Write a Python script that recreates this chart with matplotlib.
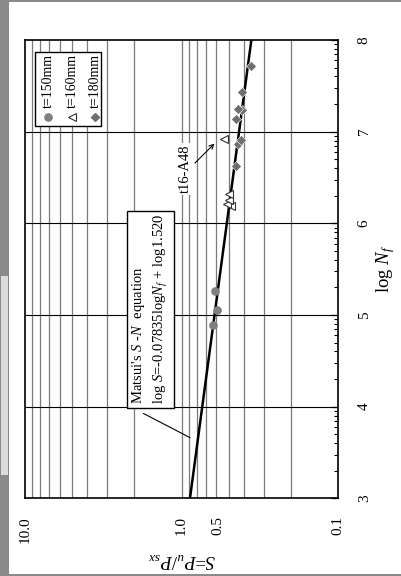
import numpy as np
import matplotlib
matplotlib.use("Agg")
import matplotlib.pyplot as plt
from matplotlib.patches import Rectangle
from matplotlib.lines import Line2D
from matplotlib.transforms import ScaledTranslation
from matplotlib.ticker import FixedLocator, NullLocator

plt.rcParams["font.family"] = ["Liberation Serif", "DejaVu Serif"]
plt.rcParams["mathtext.fontset"] = "custom"
plt.rcParams["mathtext.rm"] = "Liberation Serif"
plt.rcParams["mathtext.it"] = "Liberation Serif:italic"

# Fatigue test results: log N_f and load ratio S for each plate thickness
circ_logN = [4.89, 5.05, 5.26]
circ_S = [0.634, 0.598, 0.613]
tri_logN = [6.19, 6.21, 6.25, 6.32, 6.92]
tri_S = [0.485, 0.510, 0.499, 0.501, 0.535]
dia_logN = [6.63, 6.87, 6.91, 7.14, 7.24, 7.25, 7.43, 7.72]
dia_S = [0.448, 0.439, 0.418, 0.452, 0.414, 0.435, 0.414, 0.3625]

series_labels = ["t=150mm", "t=160mm", "t=180mm"]

# Matsui's S-N equation: log S = a log N_f + log b
eq_a = -0.07835
eq_b = 1.520
eq_logN = [3, 8]

logN_ticks = [3, 4, 5, 6, 7, 8]
S_ticks = [10.0, 1.0, 0.5, 0.1]
S_ticklabels = ["10.0", "1.0", "0.5", "0.1"]
S_grid = [0.2, 0.3, 0.4, 0.5, 0.6, 0.7, 0.8, 0.9, 1, 2, 3, 4, 5, 6, 7, 8, 9]

W, H = 402, 576
fig = plt.figure(figsize=(W / 100, H / 100), dpi=100)
fig.patch.set_facecolor("#8a8a8a")
fig.add_artist(Rectangle((9 / W, 2 / H), 392 / W, 572 / H, transform=fig.transFigure,
                         facecolor="white", edgecolor="none", zorder=-10))
fig.add_artist(Rectangle((1 / W, (576 - 475) / H), 7 / W, 199 / H, transform=fig.transFigure,
                         facecolor="#dcdcdc", edgecolor="none", zorder=-10))

x0, x1, ytop, ybot = 25, 338.3, 40, 498.3
ax = fig.add_axes([x0 / W, (H - ybot) / H, (x1 - x0) / W, (ybot - ytop) / H])

# S runs horizontally (log, decreasing to the right); log N_f runs vertically
ax.set_xscale("log")
ax.set_xlim(10, 0.1)
ax.set_ylim(3, 8)

for s in S_grid:
    ax.axvline(s, color="#7a7a7a", lw=0.9, zorder=1)
for n in logN_ticks[1:-1]:
    ax.axhline(n, color="black", lw=0.8, zorder=1)

# fitted S-N line
ln = np.array(eq_logN, dtype=float)
ax.plot(10 ** (eq_a * ln + np.log10(eq_b)), ln, color="black", lw=1.8, zorder=3)

ms_kw = dict(linestyle="none", zorder=4, clip_on=False)
ax.plot(circ_S, circ_logN, marker="o", ms=5.2, mfc="#7f7f7f", mec="#7f7f7f", **ms_kw)
ax.plot(tri_S, tri_logN, marker="<", ms=6, mfc="white", mec="#333333", mew=0.8, **ms_kw)
ax.plot(dia_S, dia_logN, marker="D", ms=4.6, mfc="#6f6f6f", mec="white", mew=0.4, **ms_kw)

# axes, ticks and labels
for sp in ax.spines.values():
    sp.set_linewidth(1.2)
ax.xaxis.set_major_locator(FixedLocator(S_ticks))
ax.xaxis.set_minor_locator(NullLocator())
ax.set_xticklabels(S_ticklabels)
ax.tick_params(axis="x", which="both", length=0, labelrotation=90, labelsize=11, pad=13)

ax.yaxis.tick_right()
ax.yaxis.set_label_position("right")
ax.set_yticks(logN_ticks)
minor_pos = [n + np.log10(k) for n in range(3, 8) for k in range(2, 10)]
ax.yaxis.set_minor_locator(FixedLocator(minor_pos))
ax.tick_params(axis="y", which="major", direction="in", length=5, width=0.9,
               labelsize=11, labelrotation=90, pad=14, right=True, left=False)
ax.tick_params(axis="y", which="minor", direction="in", length=3, width=0.8,
               right=True, left=False)
for lab in ax.get_yticklabels():
    lab.set_verticalalignment("center")

# the 0.5 label sits a little to the left of its grid line
lab05 = ax.get_xticklabels()[2]
lab05.set_transform(lab05.get_transform() + ScaledTranslation(-11 / 100, 0, fig.dpi_scale_trans))

ax.set_ylabel(r"log $N_f$", fontsize=13.5, rotation=90, va="center", ha="center")
ax.yaxis.set_label_coords((386 - x0) / (x1 - x0), 0.5)
ax.set_xlabel(r"$S$=$P_u$/$P_{sx}$", fontsize=13.5, rotation=180, va="center", ha="center")
ax.xaxis.set_label_coords(0.5, -(560 - ybot) / (ybot - ytop))

# legend drawn with vertical text
def axfx(px):
    return (px - x0) / (x1 - x0)

def axfy(py):
    return (ybot - py) / (ybot - ytop)

ax.add_patch(Rectangle((axfx(35), axfy(126)), axfx(101) - axfx(35), axfy(51.7) - axfy(126),
                       transform=ax.transAxes, facecolor="white", edgecolor="black",
                       lw=1.0, zorder=5))
leg_styles = [dict(marker="o", ms=5.2, mfc="#7f7f7f", mec="#7f7f7f"),
              dict(marker="<", ms=5.5, mfc="white", mec="#333333", mew=0.8),
              dict(marker="D", ms=4.2, mfc="#6f6f6f", mec="#6f6f6f")]
for lx, lab, sty in zip([48, 72, 95], series_labels, leg_styles):
    ax.add_line(Line2D([axfx(lx)], [axfy(116.5)], transform=ax.transAxes, zorder=6, **sty))
    ax.text(axfx(lx), axfy(108.5), lab, transform=ax.transAxes, rotation=90,
            ha="center", va="bottom", fontsize=10, zorder=6)

# equation box with leader line
ax.add_patch(Rectangle((axfx(127.3), axfy(408.3)), axfx(174) - axfx(127.3), axfy(211) - axfy(408.3),
                       transform=ax.transAxes, facecolor="white", edgecolor="black",
                       lw=1.0, zorder=5))
ax.text(axfx(138.5), axfy(404), r"Matsui's $S$ -$N$  equation", transform=ax.transAxes,
        rotation=90, ha="center", va="bottom", fontsize=10.5, zorder=6)
ax.text(axfx(161.5), axfy(404), r"log $S$=-0.07835log$N_f$ + log1.520", transform=ax.transAxes,
        rotation=90, ha="center", va="bottom", fontsize=10.5, zorder=6)
ax.annotate("", xy=(0.851, 3.647), xytext=(1.82, 3.94),
            arrowprops=dict(arrowstyle="-", color="black", lw=0.8), zorder=6)

# specimen t16-A48 callout
ax.text(0.953, 6.592, "t16-A48", rotation=90, ha="center", va="center", fontsize=10.5,
        zorder=6, bbox=dict(facecolor="white", edgecolor="none", pad=1.5))
ax.annotate("", xy=(0.617, 6.87), xytext=(0.822, 6.658),
            arrowprops=dict(arrowstyle="->", color="black", lw=0.8,
                            shrinkA=0, shrinkB=0, mutation_scale=8), zorder=6)

fig.savefig("out.png", dpi=100, facecolor=fig.get_facecolor())
